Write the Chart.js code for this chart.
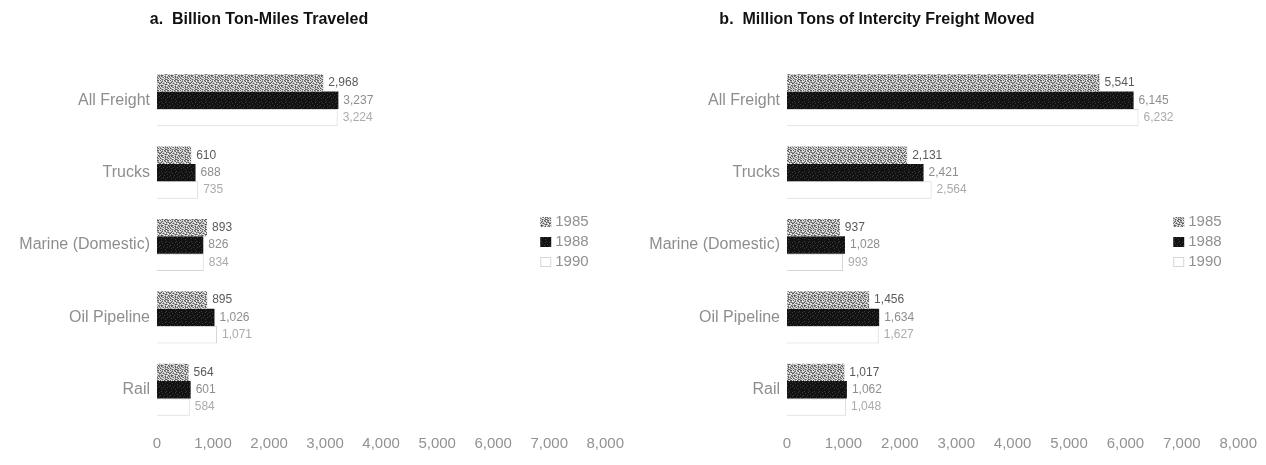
<!DOCTYPE html>
<html>
<head>
<meta charset="utf-8">
<script src="https://cdn.jsdelivr.net/npm/chart.js@4.4.1/dist/chart.umd.min.js"></script>
<style>
  html, body { margin: 0; padding: 0; background: #fff; }
  .row { display: flex; width: 1266px; height: 465px; }
  .box { position: relative; width: 633px; height: 465px; }
</style>
</head>
<body>
<div class="row">
  <div class="box"><canvas id="tonMilesChart"></canvas></div>
  <div class="box"><canvas id="tonsChart"></canvas></div>
</div>
<script>
// modes and years
const categories = ['All Freight', 'Trucks', 'Marine (Domestic)', 'Oil Pipeline', 'Rail'];
const years = ['1985', '1988', '1990'];

// a. billion ton-miles
const tonMiles1985 = [2968, 610, 893, 895, 564];
const tonMiles1988 = [3237, 688, 826, 1026, 601];
const tonMiles1990 = [3224, 735, 834, 1071, 584];

// b. million tons moved
const tons1985 = [5541, 2131, 937, 1456, 1017];
const tons1988 = [6145, 2421, 1028, 1634, 1062];
const tons1990 = [6232, 2564, 993, 1627, 1048];

// x axis range
const axisMin = 0;
const axisMax = 8000;
const axisStep = 1000;

const FONT = '"Liberation Sans", Arial, sans-serif';

// stippled fills, like the printed shading
// rows of a small tile: d = dark dot, l = light dot, . = base tone
function makePattern(rows, base, dark, light) {
  const c = document.createElement('canvas');
  c.width = rows[0].length; c.height = rows.length;
  const g = c.getContext('2d');
  g.fillStyle = base;
  g.fillRect(0, 0, c.width, c.height);
  rows.forEach((r, y) => {
    [...r].forEach((ch, x) => {
      if (ch === 'd') { g.fillStyle = dark; g.fillRect(x, y, 1, 1); }
      if (ch === 'l') { g.fillStyle = light; g.fillRect(x, y, 1, 1); }
    });
  });
  return g.createPattern(c, 'repeat');
}
const grayFill = makePattern([
  'dl.ld.lddl',
  'l.dl.dl..l',
  '.dl.lld.d.',
  'dl.d.l.lld',
  'l.ll.dd.l.',
  '.dd.l.lld.',
  'ld.l.dl..d',
  '.l.dld.dl.',
  'd.ll..l.dl',
  'l.d.ldd.l.'
], '#a2a2a2', '#5c5c5c', '#e6e6e6');
const blackFill = makePattern([
  '..........',
  '.l....l...',
  '.....l...l',
  '..l.......',
  '.......l..',
  'l...l.....',
  '.........l',
  '...l...l..',
  '.l........',
  '.....l....'
], '#121212', '#000', '#3a3a3a');

const seriesStyle = [
  { fill: grayFill, border: '#8a8a8a', width: 0, label: '#5a5a5a' },
  { fill: blackFill, border: '#111', width: 0, label: '#8e8e8e' },
  { fill: '#ffffff', border: '#d6d6d6', width: 1, label: '#ababab' }
];

const valueLabels = {
  id: 'valueLabels',
  afterDatasetsDraw(chart) {
    const ctx = chart.ctx;
    ctx.save();
    ctx.font = '12px ' + FONT;
    ctx.textBaseline = 'middle';
    chart.data.datasets.forEach((ds, i) => {
      ctx.fillStyle = seriesStyle[i].label;
      chart.getDatasetMeta(i).data.forEach((bar, j) => {
        ctx.fillText(ds.data[j].toLocaleString('en-US'), bar.x + 5, bar.y);
      });
    });
    ctx.restore();
  }
};

const sideLegend = {
  id: 'sideLegend',
  afterDraw(chart, args, opts) {
    const ctx = chart.ctx;
    const area = chart.chartArea;
    ctx.save();
    ctx.font = '15px ' + FONT;
    ctx.textBaseline = 'middle';
    years.forEach((y, i) => {
      const cx = area.right - opts.offsetRight;
      const cy = area.top + opts.offsetTop + i * 20;
      const st = seriesStyle[i];
      ctx.fillStyle = st.fill;
      ctx.fillRect(cx, cy - 5, 11, 10);
      if (st.width) {
        ctx.strokeStyle = st.border;
        ctx.strokeRect(cx + 0.5, cy - 4.5, 10, 9);
      }
      ctx.fillStyle = '#909090';
      ctx.fillText(y, cx + 15, cy);
    });
    ctx.restore();
  }
};

// panel heading, placed over the plot rather than the whole canvas
const panelTitle = {
  id: 'panelTitle',
  afterDraw(chart, args, opts) {
    const ctx = chart.ctx;
    ctx.save();
    ctx.font = 'bold 16px ' + FONT;
    ctx.fillStyle = '#111';
    ctx.textAlign = 'center';
    ctx.textBaseline = 'middle';
    ctx.fillText(opts.text, chart.chartArea.left + opts.shift, 20);
    ctx.restore();
  }
};

function buildChart(id, title, titleShift, s1985, s1988, s1990, yAxisWidth) {
  const data = [s1985, s1988, s1990];
  return new Chart(document.getElementById(id), {
    type: 'bar',
    data: {
      labels: categories,
      datasets: years.map((y, i) => ({
        label: y,
        data: data[i],
        backgroundColor: seriesStyle[i].fill,
        borderColor: seriesStyle[i].border,
        borderWidth: seriesStyle[i].width,
        categoryPercentage: 0.72,
        barPercentage: 1.0
      }))
    },
    options: {
      indexAxis: 'y',
      responsive: true,
      maintainAspectRatio: false,
      animation: false,
      layout: { padding: { left: 0, right: 21, top: 64, bottom: 0 } },
      scales: {
        x: {
          min: axisMin,
          max: axisMax,
          grid: { display: false, drawTicks: false },
          border: { display: false },
          ticks: {
            stepSize: axisStep,
            padding: 9,
            color: '#929292',
            font: { family: FONT, size: 15 },
            maxRotation: 0
          },
          afterFit(scale) { scale.height = 39; }
        },
        y: {
          grid: { display: false, drawTicks: false },
          border: { display: false },
          ticks: {
            padding: 7,
            color: '#8e8e8e',
            font: { family: FONT, size: 16 }
          },
          afterFit(scale) { scale.width = yAxisWidth; }
        }
      },
      plugins: {
        legend: { display: false },
        tooltip: { enabled: false },
        title: { display: false },
        panelTitle: { text: title, shift: titleShift },
        sideLegend: { offsetRight: 65, offsetTop: 158 }
      }
    },
    plugins: [valueLabels, sideLegend, panelTitle]
  });
}

buildChart('tonMilesChart', 'a.  Billion Ton-Miles Traveled', 102, tonMiles1985, tonMiles1988, tonMiles1990, 157);
buildChart('tonsChart', 'b.  Million Tons of Intercity Freight Moved', 90, tons1985, tons1988, tons1990, 154);
</script>
</body>
</html>
